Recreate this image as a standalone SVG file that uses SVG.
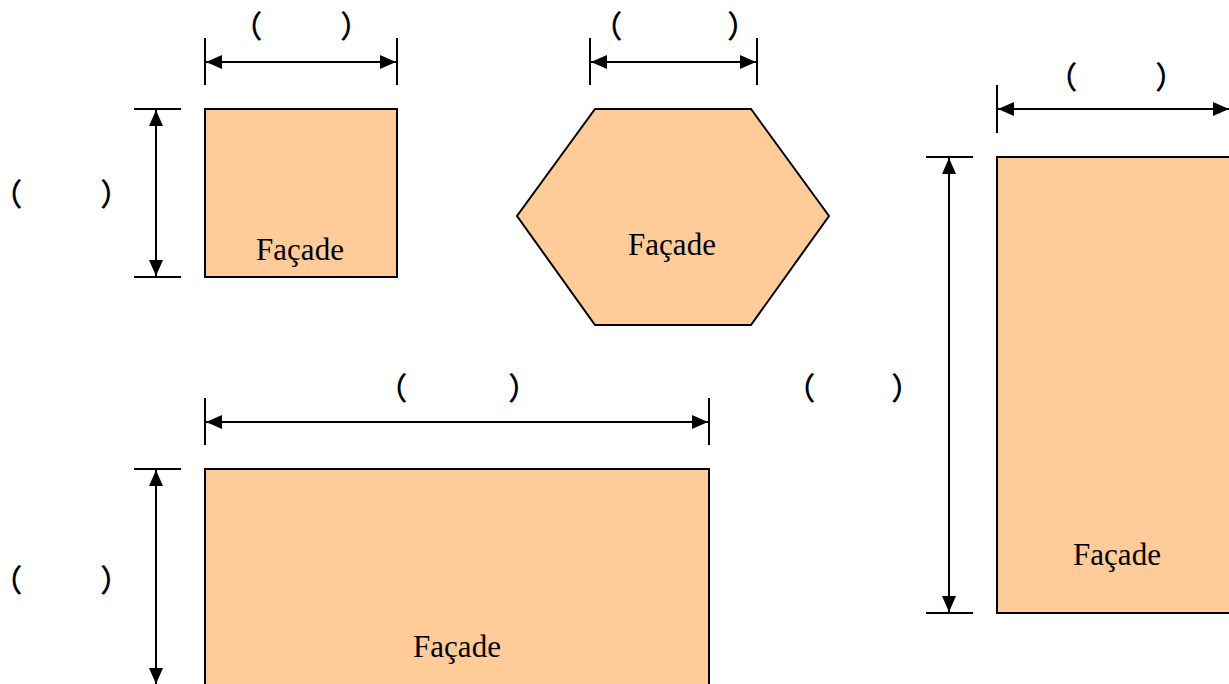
<svg xmlns="http://www.w3.org/2000/svg" width="1229" height="684" viewBox="0 0 1229 684">
<defs>
<marker id="ah" viewBox="0 0 16 14" refX="16" refY="7" markerWidth="16" markerHeight="14" markerUnits="userSpaceOnUse" orient="auto-start-reverse">
<path d="M0,0 L16,7 L0,14 Z" fill="#000"/>
</marker>
</defs>
<style>
.shape{fill:#FFCC99;stroke:#000;stroke-width:2}
.lbl{font-size:31px;fill:#000;text-anchor:middle}
.br{font-size:31px;font-weight:500;fill:#000;font-feature-settings:"palt"}
.ext{stroke:#000;stroke-width:2;fill:none}
.dim{stroke:#000;stroke-width:2;fill:none;marker-start:url(#ah);marker-end:url(#ah)}
</style>
<rect width="1229" height="684" fill="#fff"/>
<g id="square">
<rect class="shape" x="205" y="109" width="192" height="168"/>
<text class="lbl" font-family="'Liberation Serif', 'Times New Roman', serif" x="300" y="260">Façade</text>
</g>
<g id="hexagon">
<polygon class="shape" points="595,109 751,109 829,216 751,325 595,325 517,216"/>
<text class="lbl" font-family="'Liberation Serif', 'Times New Roman', serif" x="672" y="255">Façade</text>
</g>
<g id="tall-rect">
<rect class="shape" x="997" y="157" width="240" height="456"/>
<text class="lbl" font-family="'Liberation Serif', 'Times New Roman', serif" x="1117" y="565">Façade</text>
</g>
<g id="wide-rect">
<rect class="shape" x="205" y="469" width="504" height="230"/>
<text class="lbl" font-family="'Liberation Serif', 'Times New Roman', serif" x="457" y="657">Façade</text>
</g>
<g id="connectors">
<line class="ext" x1="205" y1="38" x2="205" y2="85"/>
<line class="ext" x1="397" y1="38" x2="397" y2="85"/>
<line class="dim" x1="206" y1="62" x2="396" y2="62"/>
<line class="ext" x1="134" y1="109" x2="181" y2="109"/>
<line class="ext" x1="134" y1="277" x2="181" y2="277"/>
<line class="dim" x1="156" y1="110" x2="156" y2="276"/>
<line class="ext" x1="590" y1="38" x2="590" y2="85"/>
<line class="ext" x1="757" y1="38" x2="757" y2="85"/>
<line class="dim" x1="591" y1="62" x2="756" y2="62"/>
<line class="ext" x1="997" y1="85" x2="997" y2="133"/>
<line class="dim" x1="998" y1="109" x2="1229" y2="109"/>
<line class="ext" x1="926" y1="157" x2="973" y2="157"/>
<line class="ext" x1="926" y1="613" x2="973" y2="613"/>
<line class="dim" x1="949" y1="158" x2="949" y2="612"/>
<line class="ext" x1="205" y1="398" x2="205" y2="445"/>
<line class="ext" x1="709" y1="398" x2="709" y2="445"/>
<line class="dim" x1="206" y1="422" x2="708" y2="422"/>
<line class="ext" x1="134" y1="469" x2="181" y2="469"/>
<line class="dim" x1="156" y1="470" x2="156" y2="684"/>
</g>
<g id="labels" font-family="'Noto Sans CJK SC', 'Noto Sans CJK JP', sans-serif">
<text class="br"><tspan x="246" y="37">（</tspan><tspan x="341" y="37">）</tspan></text>
<text class="br"><tspan x="606" y="37">（</tspan><tspan x="728" y="37">）</tspan></text>
<text class="br"><tspan x="1061" y="88">（</tspan><tspan x="1156" y="88">）</tspan></text>
<text class="br"><tspan x="6" y="205">（</tspan><tspan x="101" y="205">）</tspan></text>
<text class="br"><tspan x="391" y="399">（</tspan><tspan x="509" y="399">）</tspan></text>
<text class="br"><tspan x="799" y="399">（</tspan><tspan x="892" y="399">）</tspan></text>
<text class="br"><tspan x="6" y="591">（</tspan><tspan x="101" y="591">）</tspan></text>
</g>
</svg>
